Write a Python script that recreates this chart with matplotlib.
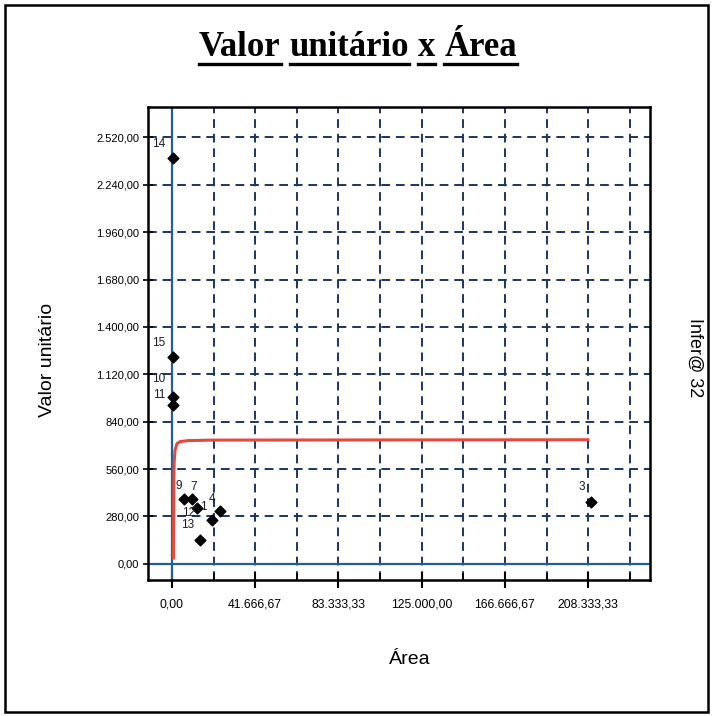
import matplotlib
matplotlib.use("Agg")
import matplotlib.pyplot as plt
from matplotlib.lines import Line2D
from matplotlib.patches import Rectangle
from matplotlib.ticker import FixedLocator, FuncFormatter

# ---- data ----
point_labels = ["14", "15", "10", "11", "9", "7", "12", "13", "1", "4", "3"]
area = [300, 350, 400, 450, 6000, 10000, 12500, 14000, 20000, 24000, 210000]
valor = [2400, 1225, 985, 940, 385, 380, 330, 140, 260, 310, 365]
label_dx = [-10, -10, -10, -10, -4, 1, -6, -9, -6, -6, -7]
label_dy = [10, 10, 13, 7, 9, 9, -4, 11, 9, 9, 11]

fit_area = [700, 800, 900, 1100, 1500, 2500, 4000, 8000, 20000, 209000]
fit_valor = [25, 250, 470, 600, 670, 710, 722, 728, 731, 733]

y_ticks = [0, 280, 560, 840, 1120, 1400, 1680, 1960, 2240, 2520]
x_ticks = [0, 41666.67, 83333.33, 125000.0, 166666.67, 208333.33]
x_minor = [20833.33, 62500.0, 104166.67, 145833.33, 187500.0, 229166.67]

W, H = 713, 716
fig = plt.figure(figsize=(W / 100, H / 100), dpi=100)
fig.patch.set_facecolor("white")

# outer border
fig.add_artist(Rectangle((5 / W, 4 / H), 703 / W, 707 / H, transform=fig.transFigure,
                         fill=False, edgecolor="black", linewidth=1.8))

ax = fig.add_axes([148 / W, 1 - 580 / H, (650 - 148) / W, (580 - 107) / H])
ax.set_xlim(-12000, 239300)
ax.set_ylim(-96, 2700)

grid_col = "#1b3563"
dash = (0, (4.5, 3))
for yv in y_ticks[1:]:
    ax.axhline(yv, color=grid_col, lw=1.4, ls=dash, zorder=1)
for xv in x_ticks[1:] + x_minor:
    ax.axvline(xv, color=grid_col, lw=1.4, ls=dash, zorder=1)

blue = "#245c94"
ax.axvline(0, color=blue, lw=1.6, zorder=2)
ax.axhline(0, color=blue, lw=1.6, zorder=2)

ax.plot(fit_area, fit_valor, color="#e5493a", lw=2.2, zorder=3, solid_capstyle="butt")

ax.scatter(area, valor, marker="D", s=30, color="black", zorder=5)
for lab, x, y, dx, dy in zip(point_labels, area, valor, label_dx, label_dy):
    ax.annotate(lab, (x, y), xytext=(dx, dy), textcoords="offset points",
                ha="center", va="center", fontsize=8.5, color="#1a1a2a",
                family="Liberation Sans", zorder=6)


def br(v, pos=None):
    s = f"{v:,.2f}"
    return s.replace(",", "#").replace(".", ",").replace("#", ".")


ax.xaxis.set_major_locator(FixedLocator(x_ticks))
ax.xaxis.set_minor_locator(FixedLocator(x_minor))
ax.yaxis.set_major_locator(FixedLocator(y_ticks))
ax.xaxis.set_major_formatter(FuncFormatter(br))
ax.yaxis.set_major_formatter(FuncFormatter(br))
ax.tick_params(axis="x", which="major", direction="inout", length=12, width=1.5,
               pad=7, labelsize=8.8, colors="black")
ax.tick_params(axis="x", which="minor", direction="in", length=5, width=1.2)
ax.tick_params(axis="y", which="major", direction="inout", length=7, width=1.2,
               pad=3, labelsize=8)
for lab in ax.get_xticklabels() + ax.get_yticklabels():
    lab.set_family(["Liberation Sans Narrow", "Liberation Sans"])
for sp in ax.spines.values():
    sp.set_linewidth(1.8)
    sp.set_color("black")

fig.text(410 / W, 1 - 660 / H, "Área", ha="center", va="center", fontsize=14,
         family="Liberation Sans")
fig.text(48 / W, 1 - 360 / H, "Valor unitário", ha="center", va="center", fontsize=14,
         rotation=90, family="Liberation Sans")
fig.text(695 / W, 1 - 358 / H, "Infer@ 32", ha="center", va="center", fontsize=13,
         rotation=270, family="Liberation Sans")

# title with underlined words
words = ["Valor", "unitário", "x", "Área"]
tfs = 25
fig.canvas.draw()
r = fig.canvas.get_renderer()
objs = []
for w in words:
    t = fig.text(0, 1 - 47 / H, w, ha="left", va="center", fontsize=tfs,
                 family="Liberation Serif", weight="bold", color="black")
    objs.append(t)
space = 9
widths = [t.get_window_extent(r).width for t in objs]
total = sum(widths) + space * (len(words) - 1)
x0 = 358 - total / 2
for t, wdt in zip(objs, widths):
    t.set_x(x0 / W)
    fig.add_artist(Line2D([x0 / W, (x0 + wdt) / W], [1 - 64 / H, 1 - 64 / H],
                          transform=fig.transFigure, color="black", lw=2.4))
    x0 += wdt + space

fig.savefig("out.png", dpi=100)
